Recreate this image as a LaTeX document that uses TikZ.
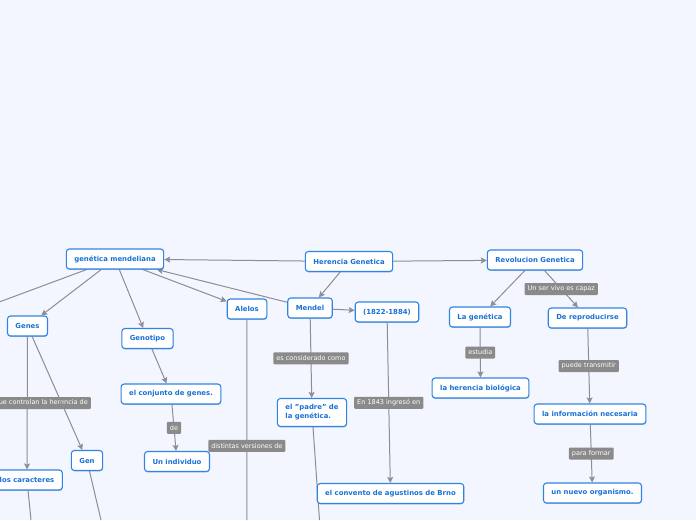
\documentclass[tikz,border=0pt]{standalone}
\usepackage{fontspec}
\setmainfont{DejaVu Sans}
\usetikzlibrary{arrows.meta,shadows}
\definecolor{bgc}{RGB}{243,246,254}
\definecolor{boxb}{RGB}{48,132,230}
\definecolor{boxt}{RGB}{26,112,214}
\definecolor{lblf}{RGB}{138,138,138}
\definecolor{edgec}{RGB}{140,142,148}
\pgfdeclarelayer{bg}
\pgfsetlayers{bg,main}
\tikzset{
 concept/.style={draw=boxb, line width=1.1pt, fill=white, rounded corners=3pt, text=boxt,
   font=\bfseries\fontsize{6.9}{9}\selectfont, inner xsep=8pt, minimum height=20pt,
   drop shadow={shadow xshift=0.3pt, shadow yshift=-0.9pt, opacity=0.35, fill=boxb!60!black}},
 lbl/.style={fill=lblf, text=white, font=\fontsize{6.5}{7.5}\selectfont, inner xsep=3pt,
   inner ysep=0pt, minimum height=12pt, rounded corners=1pt},
 conn/.style={draw=edgec, line width=1pt, -{Stealth[length=6pt,width=6pt,inset=1.2pt]}},
 plainline/.style={draw=edgec, line width=1pt},
}
\begin{document}
\begin{tikzpicture}[x=1pt,y=-1pt]
\useasboundingbox (0,0) rectangle (696,520);
\begin{pgfonlayer}{bg}
\fill[bgc] (0,0) rectangle (696,520);
\end{pgfonlayer}
% nodes
\node[concept] (mend) at (115,259) {genética mendeliana};
\node[concept] (genes) at (27.5,326) {Genes};
\node[concept] (genotipo) at (147.5,338.5) {Genotipo};
\node[concept] (alelos) at (247,309) {Alelos};
\node[concept] (herencia) at (349,261.5) {Herencia Genetica};
\node[concept] (mendel) at (310,308) {Mendel};
\node[concept] (fechas) at (387,312) {(1822-1884)};
\node[concept] (revol) at (535,260) {Revolucion Genetica};
\node[concept] (lagen) at (480,317) {La genética};
\node[concept] (reprod) at (587.5,318) {De reproducirse};
\node[concept] (conj) at (171,394) {el conjunto de genes.};
\node[concept] (gen) at (87,460.5) {Gen};
\node[concept] (indiv) at (177,461.5) {Un individuo};
\node[concept] (carac) at (27,480) {los caracteres};
\node[concept, align=left, minimum height=28pt] (padre) at (312,412.5) {el "padre" de\\la genética.};
\node[concept] (convento) at (390.5,493.5) {el convento de agustinos de Brno};
\node[concept] (herbio) at (480.5,388) {la herencia biológica};
\node[concept] (info) at (590,414) {la información necesaria};
\node[concept] (nuevo) at (592.5,493) {un nuevo organismo.};
% free ends
\coordinate (offleft) at (0,301.7);
\coordinate (alelosend) at (246.8,520);
\coordinate (padreend) at (319.5,520);
\coordinate (caracend) at (31,520);
\coordinate (genend) at (101,520);
% edges
\begin{pgfonlayer}{bg}
\draw[conn] (herencia) -- (mend);
\draw[conn] (herencia) -- (revol);
\draw[conn] (herencia) -- (mendel);
\draw[conn] (mend) -- (genes);
\draw[plainline] (mend) -- (offleft);
\draw[conn] (mend) -- (genotipo);
\draw[conn] (mend) -- (alelos);
\draw[conn] (mendel) -- (mend);
\draw[conn] (mendel) -- (fechas);
\draw[conn] (mendel) -- node[lbl, midway] {es considerado como} (padre);
\draw[conn] (fechas) -- node[lbl, midway] {En 1843 ingresó en} (convento);
\draw[plainline] (padre) -- (padreend);
\draw[plainline] (alelos) -- node[lbl, pos=0.63] {distintas versiones de} (alelosend);
\draw[conn] (genes) -- node[lbl, midway, xshift=14pt] {que controlan la herencia de} (carac);
\draw[conn] (genes) -- (gen);
\draw[plainline] (carac) -- (caracend);
\draw[plainline] (gen) -- (genend);
\draw[conn] (genotipo) -- (conj);
\draw[conn] (conj) -- node[lbl, midway] {de} (indiv);
\draw[conn] (revol) -- (lagen);
\draw[conn] (revol) -- node[lbl, midway] {Un ser vivo es capaz} (reprod);
\draw[conn] (lagen) -- node[lbl, midway] {estudia} (herbio);
\draw[conn] (reprod) -- node[lbl, midway] {puede transmitir} (info);
\draw[conn] (info) -- node[lbl, midway] {para formar} (nuevo);
\end{pgfonlayer}
\end{tikzpicture}
\end{document}
